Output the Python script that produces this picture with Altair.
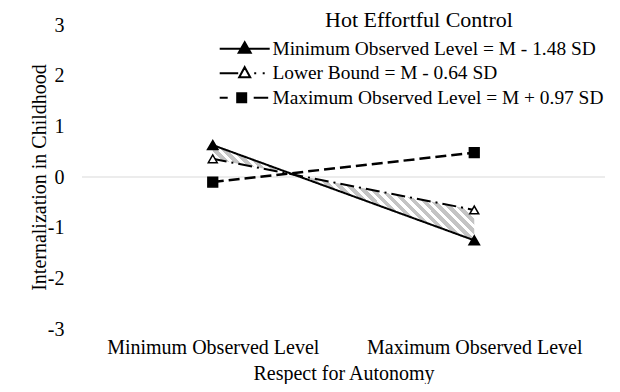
import altair as alt
import pandas as pd

# ---- data ----
levels = ["Minimum Observed Level", "Maximum Observed Level"]
series_names = [
    "Minimum Observed Level = M - 1.48 SD",
    "Lower Bound = M - 0.64 SD",
    "Maximum Observed Level = M + 0.97 SD",
]
min_level_vals = [0.63, -1.25]
lower_bound_vals = [0.36, -0.65]
max_level_vals = [-0.10, 0.48]
y_ticks = [-3, -2, -1, 0, 1, 2, 3]

series_vals = [min_level_vals, lower_bound_vals, max_level_vals]
rows = []
for name, vals in zip(series_names, series_vals):
    for lvl, v in zip(levels, vals):
        rows.append({"level": lvl, "value": v, "series": name})
df = pd.DataFrame(rows)
band = pd.DataFrame({"level": levels, "upper": min_level_vals, "lower": lower_bound_vals})
zero_df = pd.DataFrame({"z": [0]})

# ---- styles ----
FONT = "Liberation Serif"
FS = 20
line_dash = [[1, 0], [14, 5, 2, 5], [11, 5]]
line_width = [2, 2, 2.5]
marker_shape = ["triangle-up", "triangle-up", "square"]
marker_fill = ["black", "white", "black"]
marker_size = [110, 80, 95]
# legend glyphs: line + marker, drawn as custom symbol paths
legend_paths = [
    "M-5,0L5,0M0,-1.3L1.2,0.8L-1.2,0.8Z",
    "M-5,0L-1.3,0M0,-1.2L1.1,0.8L-1.1,0.8ZM1.9,0L2.3,0M3.6,0L4,0",
    "M-5,0L-3.4,0M-1.5,-0.9L0.3,-0.9L0.3,0.9L-1.5,0.9ZM1.8,0L4.7,0",
]

# diagonal hatch as a striped linear gradient
r = 95.2 / 262.5
k = (1 + r) / (1 + r * r)
n_stripes = 36
stops = []
for i in range(n_stripes):
    a = i / n_stripes
    m = (i + 0.55) / n_stripes
    b = (i + 1) / n_stripes
    stops += [
        alt.GradientStop(color="#c4c4c4", offset=a),
        alt.GradientStop(color="#c4c4c4", offset=m),
        alt.GradientStop(color="#ffffff", offset=m),
        alt.GradientStop(color="#ffffff", offset=b),
    ]
hatch = alt.LinearGradient(gradient="linear", stops=stops, x1=0, y1=1, x2=k, y2=1 - k * r)

x_enc = alt.X(
    "level:N",
    sort=levels,
    scale=alt.Scale(type="point", padding=0.5),
    axis=alt.Axis(
        title="Respect for Autonomy", labelAngle=0, domain=False, ticks=False, tickSize=0,
        grid=False, labelPadding=24, labelBaseline="alphabetic", labelLimit=0,
        labelFont=FONT, labelFontSize=FS, labelColor="black",
        titleFont=FONT, titleFontSize=FS, titleFontWeight="normal", titleColor="black",
        titleX=261.5, titleY=50, titleBaseline="alphabetic", titleAlign="center",
    ),
)
y_axis = alt.Axis(
    values=y_ticks, labelExpr="'' + datum.value",
    title="Internalization in Childhood", grid=False, domain=False,
    ticks=False, tickSize=0, labelPadding=18, labelFont=FONT, labelFontSize=FS,
    labelColor="black", titleFont=FONT, titleFontSize=FS, titleFontWeight="normal",
    titleColor="black", titleX=-37, titleY=152, titleBaseline="alphabetic", titleAlign="center",
)
y_scale = alt.Scale(domain=[-3, 3], nice=False, zero=False)

zero_line = alt.Chart(zero_df).mark_rule(color="#d9d9d9", strokeWidth=1.2).encode(
    y=alt.Y("z:Q", scale=y_scale, axis=y_axis)
)

area = alt.Chart(band).mark_area(fill=hatch, opacity=1).encode(
    x=x_enc,
    y=alt.Y("upper:Q", scale=y_scale, axis=y_axis),
    y2="lower:Q",
)

layers = [zero_line, area]
for i, name in enumerate(series_names):
    layers.append(
        alt.Chart(df).transform_filter(alt.datum.series == name)
        .mark_line(color="black", strokeDash=line_dash[i], strokeWidth=line_width[i])
        .encode(x=x_enc, y=alt.Y("value:Q", scale=y_scale, axis=y_axis))
    )
for i, name in enumerate(series_names):
    layers.append(
        alt.Chart(df).transform_filter(alt.datum.series == name)
        .mark_point(shape=marker_shape[i], fill=marker_fill[i], stroke="black",
                    strokeWidth=1.5, size=marker_size[i], opacity=1, filled=False)
        .encode(x=x_enc, y=alt.Y("value:Q", scale=y_scale, axis=y_axis))
    )

leg = alt.Legend(
    orient="none", legendX=153, legendY=-15, padding=0,
    title="Hot Effortful Control", titleFont=FONT, titleFontSize=22, titleFontWeight="normal",
    titleColor="black", titleAnchor="middle", titlePadding=7, titleLimit=500,
    labelFont=FONT, labelFontSize=19.4, labelColor="black", labelLimit=500, labelOffset=18,
    symbolSize=100, symbolStrokeWidth=2, symbolStrokeColor="black", symbolOpacity=1,
    rowPadding=3.5,
)
legend_layer = (
    alt.Chart(df).transform_filter("false")
    .mark_point(size=100, opacity=1, strokeWidth=2, filled=False)
    .encode(
        x=x_enc,
        y=alt.Y("value:Q", scale=y_scale, axis=y_axis),
        shape=alt.Shape("series:N", scale=alt.Scale(domain=series_names, range=legend_paths), legend=leg),
        fill=alt.Fill("series:N", scale=alt.Scale(domain=series_names, range=marker_fill), legend=leg),
        stroke=alt.Stroke("series:N", scale=alt.Scale(domain=series_names, range=["black", "black", "black"]), legend=leg),
    )
)
layers.append(legend_layer)

chart = (
    alt.layer(*layers)
    .properties(
        width=523, height=304, background="white",
        autosize=alt.AutoSizeParams(type="none"),
        padding={"left": 74, "top": 17, "right": 7, "bottom": 55},
    )
    .configure_view(stroke=None)
)

chart.save("out.html", embed_options={"renderer": "svg", "actions": False})
